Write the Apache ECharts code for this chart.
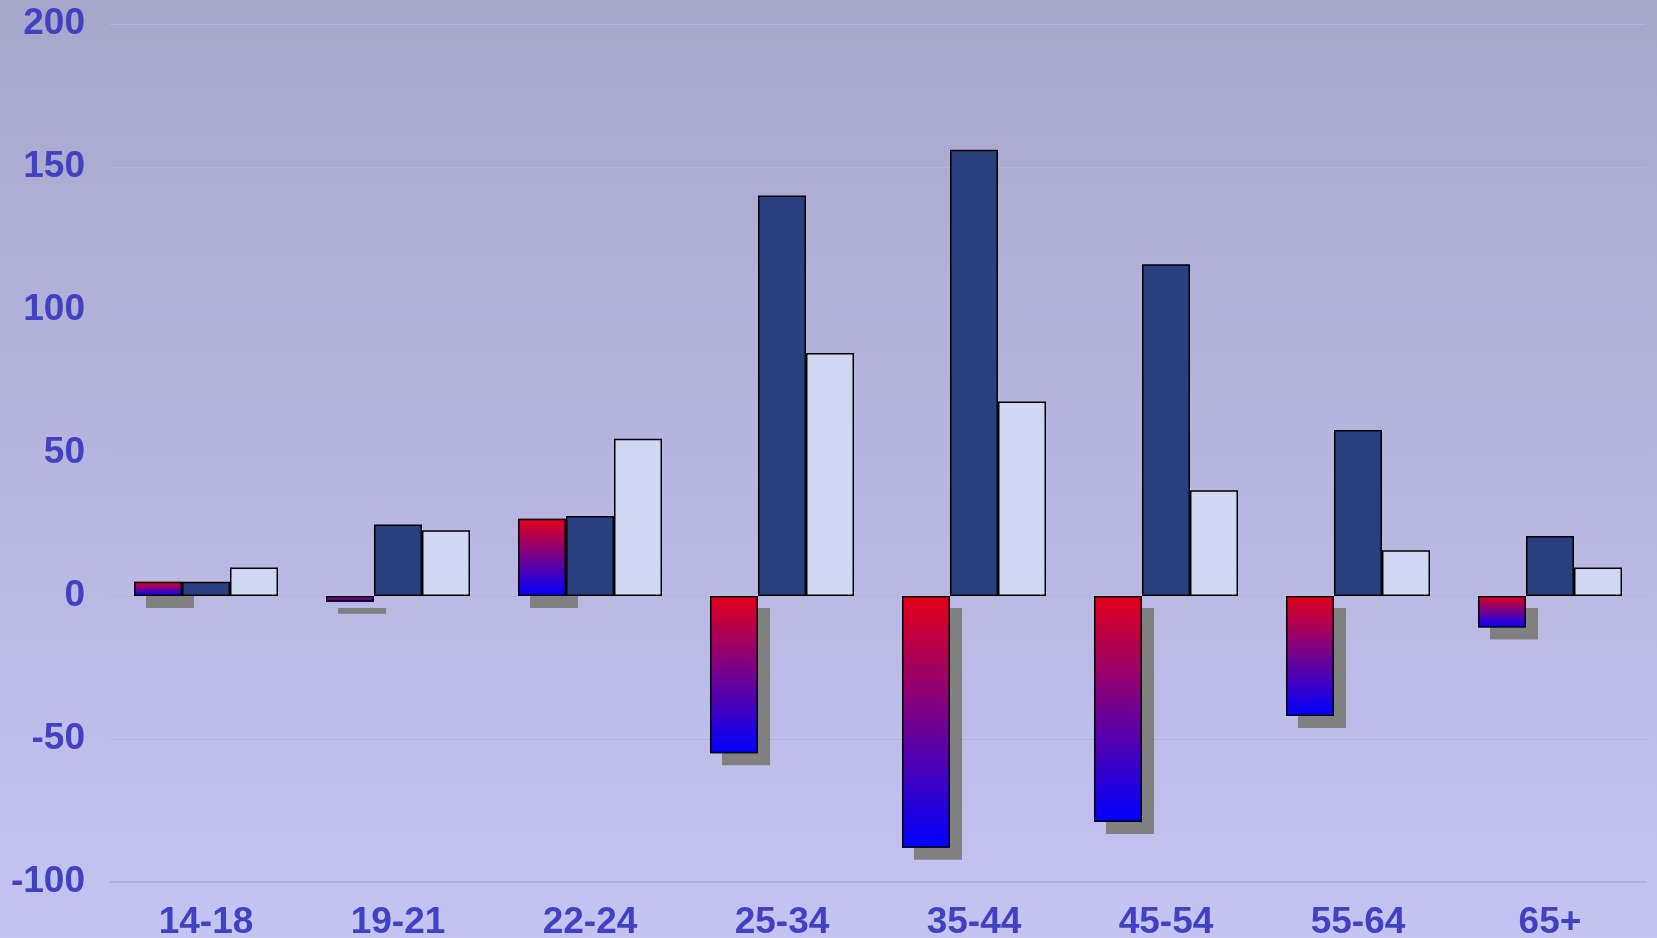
<!DOCTYPE html>
<html>
<head>
<meta charset="utf-8">
<script src="https://cdn.jsdelivr.net/npm/echarts@6/dist/echarts.min.js"></script>
<style>
  html, body { margin: 0; padding: 0; }
  #chart { width: 1657px; height: 938px; }
</style>
</head>
<body>
<div id="chart"></div>
<script>
// Age groups along the x axis
const ageGroups = ['14-18', '19-21', '22-24', '25-34', '35-44', '45-54', '55-64', '65+'];

// Net change (gradient bars with drop shadow)
const netChange = [5, -2, 27, -55, -88, -79, -42, -11];
// Dark navy series
const seriesNavy = [5, 25, 28, 140, 156, 116, 58, 21];
// Pale lavender series
const seriesLight = [10, 23, 55, 85, 68, 37, 16, 10];

// Value axis range and step
const yMin = -100;
const yMax = 200;
const yStep = 50;

const labelColor = '#4141c1';
const gridColor = '#b3b3e2';
const labelFont = '"Liberation Sans", Arial, sans-serif';
const BAR_W = 48;

const chart = echarts.init(document.getElementById('chart'), null, { renderer: 'canvas' });

// A blank series keeps the three-bar slot layout on the overlay axis
const placeholder = ageGroups.map(() => '-');

chart.setOption({
  animation: false,
  backgroundColor: {
    type: 'linear', x: 0, y: 0, x2: 0, y2: 1,
    colorStops: [
      { offset: 0, color: '#a7a7cc' },
      { offset: 1, color: '#c4c4f3' }
    ]
  },
  grid: { left: 110, right: 11, top: 24, bottom: 56, containLabel: false, outerBoundsMode: 'none' },
  xAxis: [
    {
      type: 'category',
      data: ageGroups,
      position: 'bottom',
      axisLine: { onZero: false, lineStyle: { color: '#b0b0df', width: 2 } },
      axisTick: { show: false },
      axisLabel: {
        color: labelColor,
        fontFamily: labelFont,
        fontWeight: 'bold',
        fontSize: 37,
        margin: 22
      }
    },
    {
      // overlay axis used only for the outlines of the gradient bars
      type: 'category',
      data: ageGroups,
      position: 'bottom',
      show: false
    }
  ],
  yAxis: {
    type: 'value',
    min: yMin,
    max: yMax,
    interval: yStep,
    axisLine: { show: false },
    axisTick: { show: false },
    splitLine: { lineStyle: { color: gridColor, width: 1 } },
    axisLabel: {
      color: labelColor,
      fontFamily: labelFont,
      fontWeight: 'bold',
      fontSize: 37,
      margin: 25,
      padding: [4, 0, 0, 0]
    }
  },
  series: [
    {
      // gradient fill with hard grey drop shadow, no border
      type: 'bar',
      xAxisIndex: 0,
      data: netChange,
      barWidth: BAR_W,
      barGap: '0%',
      itemStyle: {
        color: {
          type: 'linear', x: 0, y: 0, x2: 0, y2: 1,
          colorStops: [
            { offset: 0, color: '#e4001a' },
            { offset: 0.5, color: '#72008f' },
            { offset: 1, color: '#0000ff' }
          ]
        },
        borderWidth: 0,
        shadowColor: '#808080',
        shadowBlur: 0,
        shadowOffsetX: 12,
        shadowOffsetY: 12
      }
    },
    {
      type: 'bar',
      xAxisIndex: 0,
      data: seriesNavy,
      barWidth: BAR_W,
      barGap: '0%',
      itemStyle: { color: '#283f80', borderColor: '#000000', borderWidth: 1.5 }
    },
    {
      type: 'bar',
      xAxisIndex: 0,
      data: seriesLight,
      barWidth: BAR_W,
      barGap: '0%',
      itemStyle: { color: '#d0d7f1', borderColor: '#000000', borderWidth: 1.5 }
    },
    {
      // black outline of the gradient bars, drawn without shadow
      type: 'bar',
      xAxisIndex: 1,
      data: netChange,
      barWidth: BAR_W,
      barGap: '0%',
      z: 3,
      itemStyle: { color: 'rgba(0,0,0,0)', borderColor: '#000000', borderWidth: 1.5 }
    },
    {
      type: 'bar',
      xAxisIndex: 1,
      data: placeholder,
      barWidth: BAR_W,
      barGap: '0%',
      silent: true
    },
    {
      type: 'bar',
      xAxisIndex: 1,
      data: placeholder,
      barWidth: BAR_W,
      barGap: '0%',
      silent: true
    }
  ]
});
</script>
</body>
</html>
